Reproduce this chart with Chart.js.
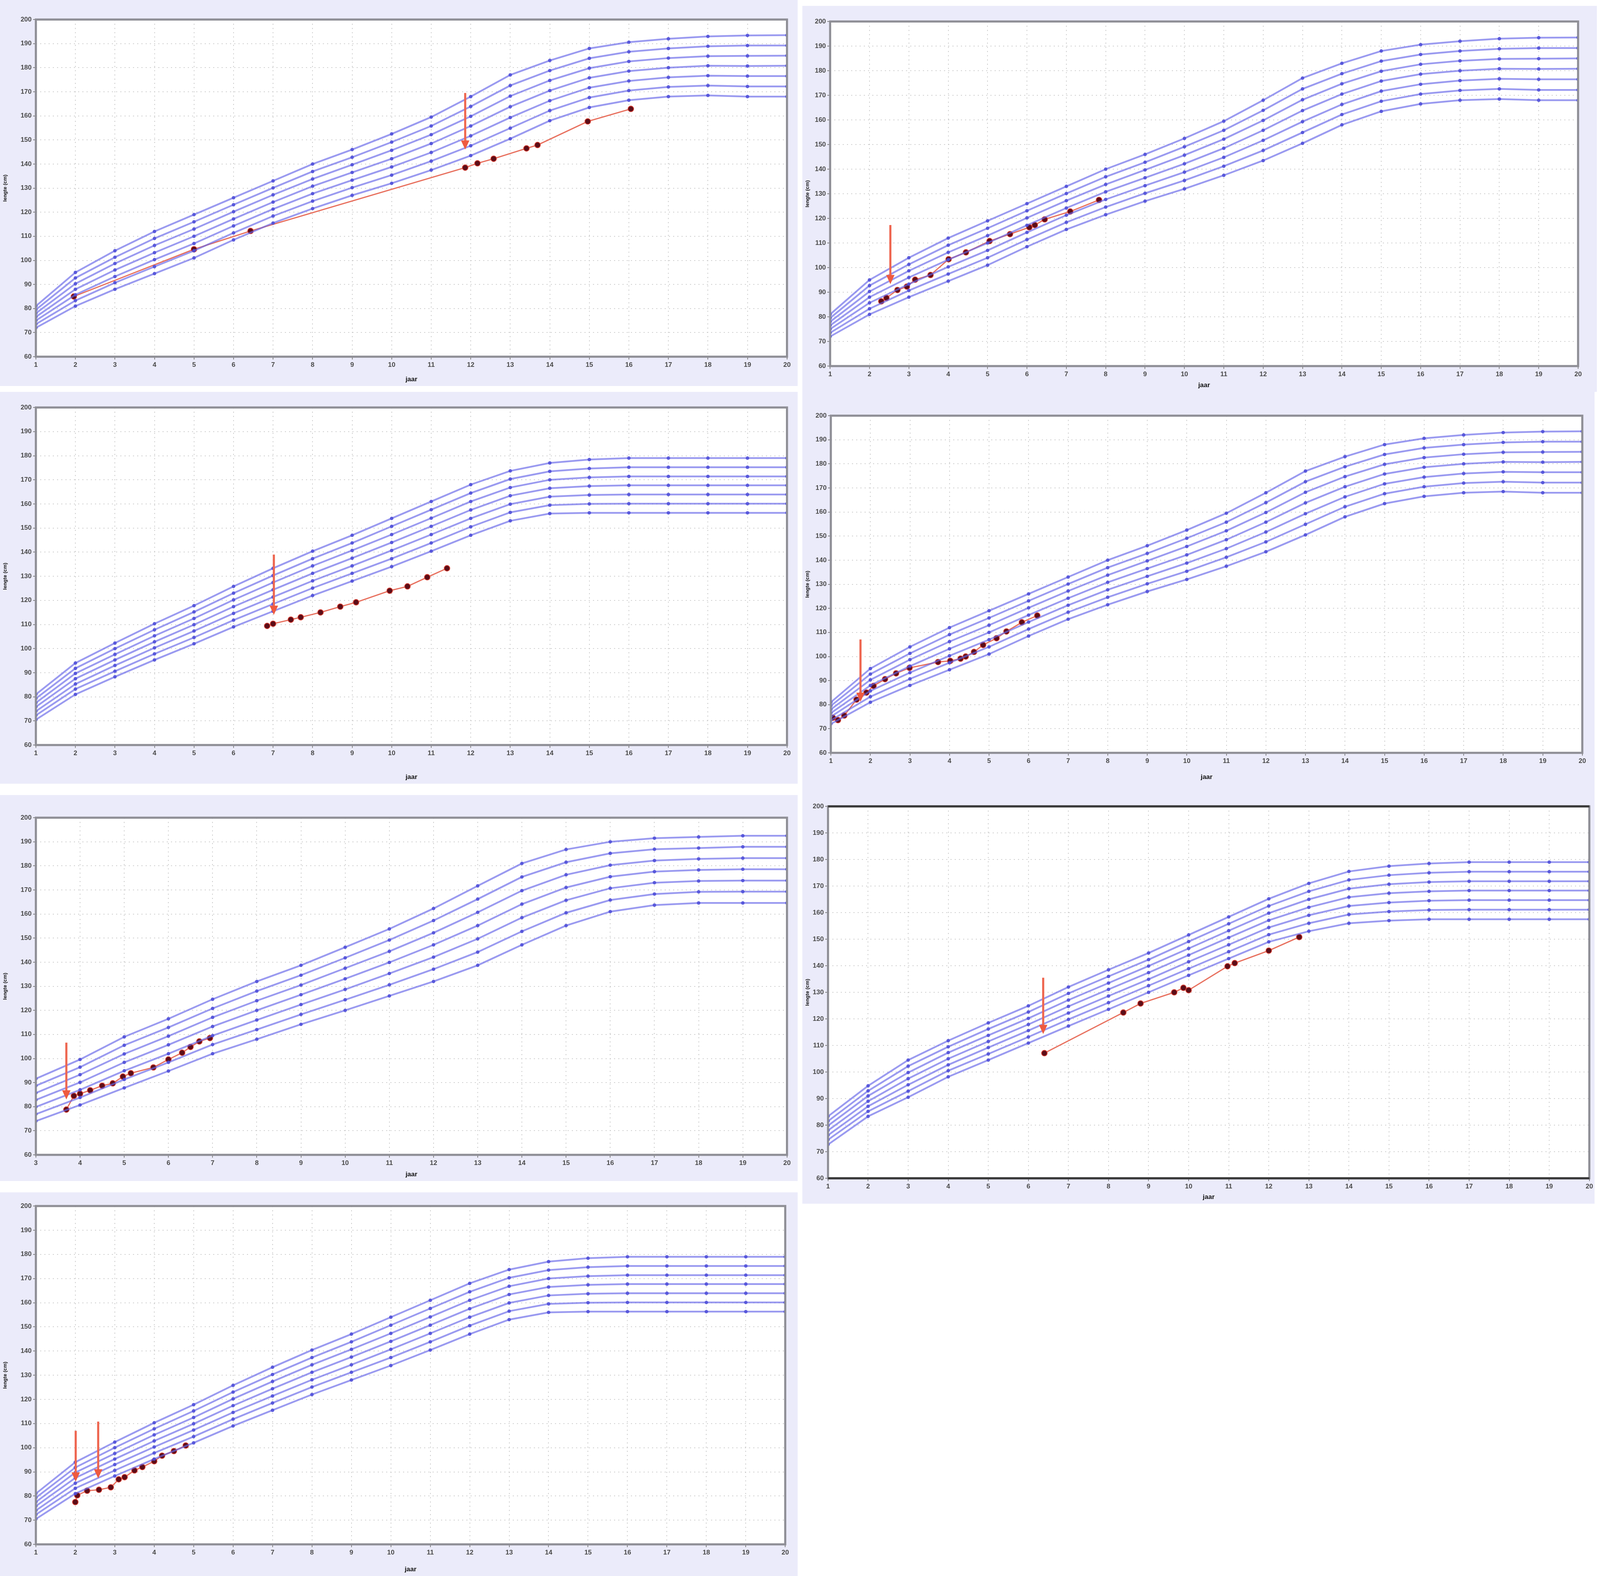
<!DOCTYPE html>
<html>
<head>
<meta charset="utf-8">
<script src="https://cdn.jsdelivr.net/npm/chart.js@4.4.0/dist/chart.umd.min.js"></script>
<style>
  html, body { margin: 0; background: #fff; overflow: hidden; }
  .panel { position: absolute; background: #ebebfa; }
  canvas { display: block; }
</style>
</head>
<body>
<script>
// leeftijden (jaar)
const AGES = [1, 2, 3, 4, 5, 6, 7, 8, 9, 10, 11, 12, 13, 14, 15, 16, 17, 18, 19, 20];
const AGES_FROM3 = [3, 4, 5, 6, 7, 8, 9, 10, 11, 12, 13, 14, 15, 16, 17, 18, 19, 20];
const Y_TICKS = [60, 70, 80, 90, 100, 110, 120, 130, 140, 150, 160, 170, 180, 190, 200];

// referentielijnen jongens (panelen 1, 2, 4)
const BOYS_1 = [81, 95, 104, 112, 119, 126, 133, 140, 146, 152.5, 159.5, 168, 177, 183, 188, 190.6, 192, 193, 193.4, 193.5];
const BOYS_2 = [79.5, 92.7, 101.3, 109.1, 116, 123.1, 130.1, 136.9, 142.8, 149.1, 155.8, 163.9, 172.6, 178.8, 183.9, 186.6, 188, 188.9, 189.2, 189.2];
const BOYS_3 = [78, 90.3, 98.7, 106.2, 113, 120.2, 127.2, 133.8, 139.7, 145.7, 152.2, 159.8, 168.2, 174.7, 179.8, 182.6, 184, 184.8, 184.9, 185];
const BOYS_4 = [76.5, 88, 96, 103.2, 110, 117.2, 124.2, 130.8, 136.5, 142.2, 148.5, 155.8, 163.8, 170.5, 175.8, 178.6, 180, 180.8, 180.7, 180.8];
const BOYS_5 = [75, 85.7, 93.3, 100.3, 107, 114.3, 121.3, 127.7, 133.3, 138.8, 144.8, 151.7, 159.3, 166.3, 171.7, 174.5, 176, 176.7, 176.5, 176.5];
const BOYS_6 = [73.5, 83.3, 90.7, 97.4, 104, 111.4, 118.4, 124.6, 130.2, 135.4, 141.2, 147.6, 154.9, 162.2, 167.6, 170.5, 172, 172.6, 172.2, 172.2];
const BOYS_7 = [72, 81, 88, 94.5, 101, 108.5, 115.5, 121.5, 127, 132, 137.5, 143.5, 150.5, 158, 163.5, 166.5, 168, 168.5, 168, 168];

// referentielijnen meisjes (panelen 3, 7)
const GIRLS_1 = [81, 94, 102.3, 110.3, 117.8, 125.8, 133.3, 140.4, 147, 154, 161, 168, 173.7, 177, 178.4, 179, 179, 179, 179, 179];
const GIRLS_2 = [79.3, 91.8, 100, 107.8, 115.2, 123, 130.3, 137.3, 143.8, 150.7, 157.6, 164.5, 170.3, 173.5, 174.7, 175.2, 175.2, 175.2, 175.2, 175.2];
const GIRLS_3 = [77.5, 89.7, 97.6, 105.3, 112.5, 120.2, 127.4, 134.3, 140.7, 147.3, 154.1, 161, 166.8, 170, 171, 171.4, 171.4, 171.4, 171.4, 171.4];
const GIRLS_4 = [75.8, 87.5, 95.3, 102.8, 109.9, 117.4, 124.4, 131.2, 137.5, 144, 150.7, 157.5, 163.4, 166.5, 167.4, 167.7, 167.7, 167.7, 167.7, 167.7];
const GIRLS_5 = [74, 85.3, 93, 100.3, 107.3, 114.6, 121.4, 128.1, 134.3, 140.7, 147.3, 154, 159.9, 163, 163.7, 163.9, 163.9, 163.9, 163.9, 163.9];
const GIRLS_6 = [72.3, 83.2, 90.6, 97.8, 104.6, 111.8, 118.5, 125.1, 131.2, 137.3, 143.8, 150.5, 156.5, 159.5, 160, 160.1, 160.1, 160.1, 160.1, 160.1];
const GIRLS_7 = [70.5, 81, 88.3, 95.3, 102, 109, 115.5, 122, 128, 134, 140.4, 147, 153, 156, 156.3, 156.3, 156.3, 156.3, 156.3, 156.3];

// referentielijnen paneel 5 (vanaf 3 jaar)
const REF5_1 = [91.6, 99.6, 109, 116.5, 124.6, 132, 138.7, 146.2, 153.8, 162.3, 171.7, 181, 186.8, 190, 191.5, 192, 192.5, 192.5];
const REF5_2 = [88.7, 96.4, 105.5, 112.9, 120.8, 128, 134.6, 141.8, 149.2, 157.3, 166.2, 175.4, 181.5, 185.2, 186.9, 187.4, 187.9, 187.9];
const REF5_3 = [85.7, 93.3, 101.9, 109.3, 117.1, 124, 130.5, 137.5, 144.5, 152.2, 160.7, 169.7, 176.3, 180.3, 182.2, 182.9, 183.2, 183.2];
const REF5_4 = [82.8, 90.1, 98.4, 105.7, 113.3, 120, 126.5, 133.1, 139.9, 147.2, 155.2, 164.1, 171, 175.5, 177.6, 178.3, 178.6, 178.6];
const REF5_5 = [79.9, 87, 94.9, 102, 109.5, 116, 122.4, 128.7, 135.3, 142.1, 149.7, 158.5, 165.7, 170.7, 173, 173.7, 173.9, 173.9];
const REF5_6 = [76.9, 83.8, 91.3, 98.4, 105.8, 112, 118.3, 124.4, 130.6, 137.1, 144.2, 152.8, 160.5, 165.8, 168.3, 169.2, 169.3, 169.3];
const REF5_7 = [74, 80.7, 87.8, 94.8, 102, 108, 114.2, 120, 126, 132, 138.7, 147.2, 155.2, 161, 163.7, 164.6, 164.6, 164.6];

// referentielijnen paneel 6
const REF6_1 = [83.3, 94.8, 104.5, 111.8, 118.5, 124.9, 132, 138.5, 144.8, 151.6, 158.4, 165.2, 171, 175.5, 177.5, 178.5, 179, 179, 179, 179];
const REF6_2 = [81.5, 92.9, 102.2, 109.5, 116.2, 122.6, 129.6, 136, 142.3, 149.1, 155.8, 162.5, 168, 172.3, 174.1, 175, 175.4, 175.4, 175.4, 175.4];
const REF6_3 = [79.8, 91, 99.8, 107.3, 113.8, 120.2, 127.1, 133.5, 139.9, 146.5, 153.2, 159.8, 165, 169, 170.7, 171.5, 171.8, 171.8, 171.8, 171.8];
const REF6_4 = [78, 89, 97.5, 105, 111.5, 117.9, 124.7, 131.1, 137.4, 144, 150.6, 157.1, 162, 165.8, 167.3, 168, 168.3, 168.3, 168.3, 168.3];
const REF6_5 = [76.2, 87.1, 95.2, 102.7, 109.2, 115.6, 122.2, 128.6, 134.9, 141.5, 147.9, 154.4, 159, 162.5, 163.8, 164.5, 164.7, 164.7, 164.7, 164.7];
const REF6_6 = [74.5, 85.2, 92.8, 100.5, 106.8, 113.2, 119.8, 126.1, 132.5, 138.9, 145.3, 151.7, 156, 159.3, 160.4, 161, 161.1, 161.1, 161.1, 161.1];
const REF6_7 = [72.7, 83.3, 90.5, 98.2, 104.5, 110.9, 117.3, 123.6, 130, 136.4, 142.7, 149, 153, 156, 157, 157.5, 157.5, 157.5, 157.5, 157.5];

// metingen per patiënt: leeftijd (jaar) en lengte (cm)
const P1_AGE = [1.96, 5.0, 6.43, 11.86, 12.17, 12.58, 13.41, 13.69, 14.96, 16.05];
const P1_LEN = [85, 104.6, 112.2, 138.5, 140.3, 142.2, 146.5, 147.9, 157.7, 162.9];
const P2_AGE = [2.3, 2.43, 2.71, 2.95, 3.16, 3.55, 4.01, 4.45, 5.05, 5.57, 6.06, 6.2, 6.45, 7.1, 7.83];
const P2_LEN = [86.3, 87.7, 90.9, 92.3, 95.1, 97, 103.4, 106.2, 110.8, 113.6, 116.4, 117.3, 119.6, 122.8, 127.5];
const P3_AGE = [6.85, 7.0, 7.45, 7.7, 8.2, 8.7, 9.1, 9.95, 10.4, 10.9, 11.4];
const P3_LEN = [109.4, 110.3, 112, 113, 115, 117.4, 119.2, 124, 125.8, 129.6, 133.3];
const P4_AGE = [1.05, 1.18, 1.34, 1.65, 1.9, 2.08, 2.37, 2.65, 2.99, 3.71, 4.02, 4.28, 4.41, 4.62, 4.85, 5.19, 5.44, 5.83, 6.22];
const P4_LEN = [74.6, 73.6, 75.5, 82.1, 85, 87.8, 90.6, 93, 95.3, 97.7, 98.2, 99.1, 100, 101.9, 104.8, 107.6, 110.4, 114.2, 117];
const P5_AGE = [3.69, 3.86, 4.0, 4.23, 4.5, 4.74, 4.97, 5.15, 5.66, 6.0, 6.31, 6.5, 6.7, 6.94];
const P5_LEN = [78.8, 84.5, 85.4, 86.8, 88.7, 89.7, 92.5, 93.9, 96.3, 99.6, 102.4, 104.8, 107.1, 108.5];
const P6_AGE = [6.4, 8.37, 8.8, 9.64, 9.87, 10.0, 10.97, 11.15, 12.0, 12.76];
const P6_LEN = [107.1, 122.4, 125.8, 130, 131.7, 130.8, 139.8, 141, 145.7, 150.8];
const P7_AGE = [2.0, 2.05, 2.3, 2.6, 2.9, 3.1, 3.25, 3.5, 3.7, 4.0, 4.2, 4.5, 4.8];
const P7_LEN = [77.5, 80.3, 82.2, 82.6, 83.6, 86.9, 87.8, 90.6, 92, 94.4, 96.7, 98.6, 100.9];

// pijlen: leeftijd, lengte bovenkant, lengte punt
const P1_ARROW = { age: [11.86], top: [169.5], tip: [146] };
const P2_ARROW = { age: [2.53], top: [117.3], tip: [93.3] };
const P3_ARROW = { age: [7.02], top: [139], tip: [114] };
const P4_ARROW = { age: [1.75], top: [107.1], tip: [81.2] };
const P5_ARROW = { age: [3.69], top: [106.6], tip: [83] };
const P6_ARROW = { age: [6.37], top: [135.5], tip: [114.3] };
const P7_ARROW = { age: [2.01, 2.58], top: [107, 110.8], tip: [86, 87.3] };

const BOYS = [BOYS_1, BOYS_2, BOYS_3, BOYS_4, BOYS_5, BOYS_6, BOYS_7];
const GIRLS = [GIRLS_1, GIRLS_2, GIRLS_3, GIRLS_4, GIRLS_5, GIRLS_6, GIRLS_7];
const REF5 = [REF5_1, REF5_2, REF5_3, REF5_4, REF5_5, REF5_6, REF5_7];
const REF6 = [REF6_1, REF6_2, REF6_3, REF6_4, REF6_5, REF6_6, REF6_7];

// box = [left, top, width, height], plot = [x0, y0, x1, y1] binnen de box (op 4550x4034)
const panels = [
  { box: [0, 0, 2268, 988], plot: [102, 50, 2238, 913], xMin: 1, ref: BOYS, refAges: AGES, age: P1_AGE, len: P1_LEN, arrow: P1_ARROW },
  { box: [2282, 15, 2259, 988], plot: [79, 40, 2206, 922], xMin: 1, ref: BOYS, refAges: AGES, age: P2_AGE, len: P2_LEN, arrow: P2_ARROW },
  { box: [0, 1003, 2268, 1003], plot: [102, 40, 2238, 904], xMin: 1, ref: GIRLS, refAges: AGES, age: P3_AGE, len: P3_LEN, arrow: P3_ARROW },
  { box: [2282, 1003, 2253, 1003], plot: [81, 61, 2218, 924], xMin: 1, ref: BOYS, refAges: AGES, age: P4_AGE, len: P4_LEN, arrow: P4_ARROW },
  { box: [0, 2035, 2268, 988], plot: [102, 58, 2238, 921], xMin: 3, ref: REF5, refAges: AGES_FROM3, age: P5_AGE, len: P5_LEN, arrow: P5_ARROW },
  { box: [2282, 2006, 2253, 1075], plot: [73, 58, 2238, 1010], xMin: 1, ref: REF6, refAges: AGES, age: P6_AGE, len: P6_LEN, arrow: P6_ARROW, dark: true },
  { box: [0, 3052, 2268, 982], plot: [102, 35, 2233, 901], xMin: 1, ref: GIRLS, refAges: AGES, age: P7_AGE, len: P7_LEN, arrow: P7_ARROW }
];

// schaal naar het werkelijke venster
const VW = window.innerWidth, VH = window.innerHeight;
const SX = VW / 4550, SY = VH / 4034, S = Math.min(SX, SY);
document.body.style.width = VW + 'px';
document.body.style.height = VH + 'px';

const framePlugin = {
  id: 'frame',
  beforeDraw(chart) {
    const { ctx, chartArea: a } = chart;
    ctx.save();
    ctx.fillStyle = '#ebebfa';
    ctx.fillRect(0, 0, chart.width, chart.height);
    ctx.fillStyle = '#ffffff';
    ctx.fillRect(a.left, a.top, a.right - a.left, a.bottom - a.top);
    ctx.restore();
  },
  afterDatasetsDraw(chart, args, opts) {
    const { ctx, chartArea: a, scales } = chart;
    ctx.save();
    ctx.lineWidth = 6 * S;
    ctx.strokeStyle = '#8f8f96';
    ctx.strokeRect(a.left, a.top, a.right - a.left, a.bottom - a.top);
    if (opts.dark) {
      ctx.strokeStyle = '#3a3a3a';
      ctx.beginPath();
      ctx.moveTo(a.left, a.top); ctx.lineTo(a.right, a.top);
      ctx.moveTo(a.left, a.bottom); ctx.lineTo(a.right, a.bottom);
      ctx.stroke();
    }
    // pijlen
    const ar = opts.arrow;
    ctx.strokeStyle = '#ee6650';
    ctx.fillStyle = '#ee5a40';
    ctx.lineWidth = 6 * S;
    ar.age.forEach((age, i) => {
      const x = scales.x.getPixelForValue(age);
      const y0 = scales.y.getPixelForValue(ar.top[i]);
      const y1 = scales.y.getPixelForValue(ar.tip[i]);
      ctx.beginPath();
      ctx.moveTo(x, y0);
      ctx.lineTo(x, y1 - 20 * S);
      ctx.stroke();
      ctx.beginPath();
      ctx.moveTo(x - 12 * S, y1 - 26 * S);
      ctx.lineTo(x + 12 * S, y1 - 26 * S);
      ctx.lineTo(x, y1);
      ctx.closePath();
      ctx.fill();
    });
    ctx.restore();
  }
};

const tickFont = { family: 'Liberation Sans', size: Math.round(19 * S), weight: 'bold' };

panels.forEach(p => {
  const left = p.box[0] * SX, top = p.box[1] * SY;
  const w = Math.round(p.box[2] * SX), h = Math.round(p.box[3] * SY);
  const x0 = p.plot[0] * SX, y0 = p.plot[1] * SY, x1 = p.plot[2] * SX, y1 = p.plot[3] * SY;
  const div = document.createElement('div');
  div.className = 'panel';
  div.style.left = left + 'px';
  div.style.top = top + 'px';
  div.style.width = w + 'px';
  div.style.height = h + 'px';
  const canvas = document.createElement('canvas');
  canvas.width = w;
  canvas.height = h;
  canvas.style.width = w + 'px';
  canvas.style.height = h + 'px';
  div.appendChild(canvas);
  document.body.appendChild(div);

  const datasets = p.ref.map(line => ({
    data: p.refAges.map((a, i) => ({ x: a, y: line[i] })),
    borderColor: 'rgba(100, 100, 232, 0.65)',
    borderWidth: 5 * S,
    pointRadius: 5 * S,
    pointBackgroundColor: 'rgba(75, 75, 215, 0.85)',
    pointBorderWidth: 0,
    tension: 0
  }));
  datasets.push({
    data: p.age.map((a, i) => ({ x: a, y: p.len[i] })),
    borderColor: '#e8705e',
    borderWidth: 3.5 * S,
    pointRadius: 8 * S,
    pointBackgroundColor: '#5b0d18',
    pointBorderColor: '#d23a2e',
    pointBorderWidth: 2 * S,
    tension: 0
  });

  const padLeft = 6 * SX, padBottom = 4 * SY;
  new Chart(canvas, {
    type: 'line',
    data: { datasets },
    plugins: [framePlugin],
    options: {
      responsive: false,
      animation: false,
      devicePixelRatio: 1,
      layout: { padding: { left: padLeft, top: y0, right: w - x1, bottom: padBottom } },
      plugins: {
        legend: { display: false },
        tooltip: { enabled: false },
        frame: { arrow: p.arrow, dark: !!p.dark }
      },
      scales: {
        x: {
          type: 'linear',
          min: p.xMin,
          max: 20,
          ticks: { stepSize: 1, font: tickFont, color: '#4a4a4a', padding: 4 * S },
          grid: { color: '#c4c4c4', lineWidth: 2 * S, tickLength: 8 * S, tickColor: '#777' },
          border: { display: false, dash: [3 * S, 9 * S] },
          title: { display: true, text: 'jaar', font: { family: 'Liberation Sans', size: Math.round(19 * S), weight: 'bold' }, color: '#111', padding: { top: 2, bottom: 2 } },
          afterFit: s => { s.height = h - y1 - padBottom; }
        },
        y: {
          type: 'linear',
          min: 60,
          max: 200,
          afterBuildTicks: s => { s.ticks = Y_TICKS.map(v => ({ value: v })); },
          ticks: { font: tickFont, color: '#4a4a4a', padding: 4 * S },
          grid: { color: '#c4c4c4', lineWidth: 2 * S, tickLength: 8 * S, tickColor: '#777' },
          border: { display: false, dash: [3 * S, 9 * S] },
          title: { display: true, text: 'lengte (cm)', font: { family: 'Liberation Sans', size: Math.round(14 * S), weight: 'bold' }, color: '#111', padding: { top: 0, bottom: 2 } },
          afterFit: s => { s.width = x0 - padLeft; }
        }
      }
    }
  });
});
</script>
</body>
</html>
